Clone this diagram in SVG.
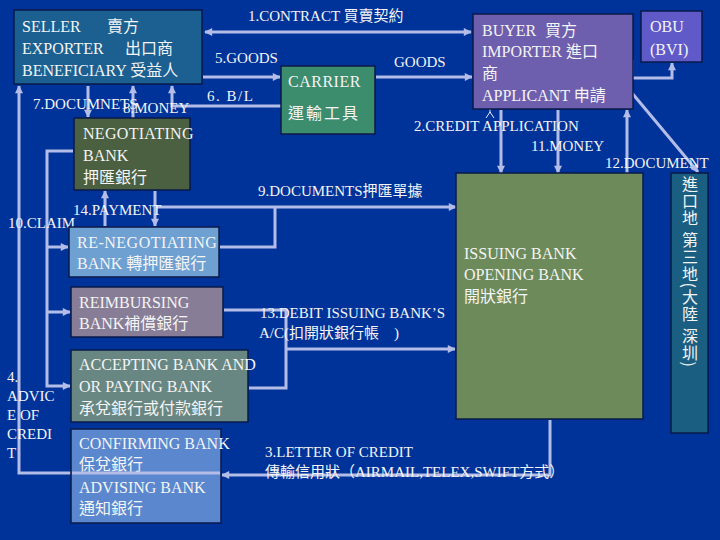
<svg xmlns="http://www.w3.org/2000/svg" width="720" height="540" viewBox="0 0 720 540">
<defs>
<style>
.bg{fill:#003399}
.box{stroke:#0a1a48;stroke-width:1.5}
.t{font-family:"Liberation Serif","Noto Sans CJK TC",serif;font-size:16px;fill:#f4f4f4}
.l{font-family:"Liberation Serif","Noto Sans CJK TC",serif;font-size:15px;fill:#f4f4f4}
.c{fill:none;stroke:#b4bde8;stroke-width:3}
.thin{fill:none;stroke:#e8ecff;stroke-width:1}
.v{font-family:"Noto Sans CJK TC",sans-serif;font-size:16px;fill:#f4f4f4;writing-mode:vertical-rl}
</style>
<marker id="ah" viewBox="0 0 10 10" refX="9" refY="5" markerWidth="9" markerHeight="8" orient="auto-start-reverse" markerUnits="userSpaceOnUse">
<path d="M0,0 L10,5 L0,10 z" fill="#b4bde8"/>
</marker>
</defs>
<rect class="bg" x="0" y="0" width="720" height="540"/>

<g id="connectors">
<path class="c" d="M205,32 H471" marker-start="url(#ah)" marker-end="url(#ah)"/>
<path class="c" d="M203,77 H280" marker-end="url(#ah)"/>
<path class="c" d="M376,77 H472" marker-end="url(#ah)"/>
<path class="c" d="M281,106 H172 V86" marker-end="url(#ah)"/>
<path class="c" d="M88,86 V117" marker-end="url(#ah)"/>
<path class="c" d="M133,118 V86" marker-end="url(#ah)"/>
<path class="c" d="M220,473 H19 V86" marker-end="url(#ah)"/>
<path class="c" d="M550,420 V475 H222" marker-end="url(#ah)"/>
<path class="c" d="M73,151 H47 V386 H70" marker-end="url(#ah)"/>
<path class="c" d="M47,247 H68" marker-end="url(#ah)"/>
<path class="c" d="M47,312 H70" marker-end="url(#ah)"/>
<path class="c" d="M105,226 V191" marker-end="url(#ah)"/>
<path class="c" d="M155,191 V226" marker-end="url(#ah)"/>
<path class="c" d="M155,207 H456" marker-end="url(#ah)"/>
<path class="c" d="M220,247 H275 V207"/>
<path class="c" d="M224,310 H286 V388 H249"/>
<path class="c" d="M286,349 H455" marker-end="url(#ah)"/>
<path class="c" d="M501,110 V173" marker-end="url(#ah)"/>
<path class="c" d="M558,110 V173" marker-end="url(#ah)"/>
<path class="c" d="M627,173 V110" marker-end="url(#ah)"/>
<path class="c" d="M632,60 V78 H672 V63" marker-end="url(#ah)"/>
<path class="c" d="M632,93 L698,172" marker-end="url(#ah)"/>
<path class="thin" d="M490,109 V113 M486,118 L490,112 L494,118"/>
</g>

<g id="labels">
<text class="l" x="248" y="21">1.CONTRACT 買賣契約</text>
<text class="l" x="215" y="63">5.GOODS</text>
<text class="l" x="394" y="67">GOODS</text>
<text class="l" x="207" y="101" letter-spacing="1.5">6. B/L</text>
<text class="l" x="33" y="109">7.DOCUMNETS</text>
<text class="l" x="123" y="113">8.MONEY</text>
<text class="l" x="414" y="131">2.CREDIT APPLICATION</text>
<text class="l" x="531" y="151">11.MONEY</text>
<text class="l" x="605" y="168">12.DOCUMENT</text>
<text class="l" x="258" y="196">9.DOCUMENTS押匯單據</text>
<text class="l" x="73" y="215">14.PAYMENT</text>
<text class="l" x="8" y="228">10.CLAIM</text>
<text class="l" x="260" y="318">13.DEBIT ISSUING BANK’S</text>
<text class="l" x="259" y="338">A/C(扣開狀銀行帳　)</text>
<text class="l" x="7" y="382">4.</text>
<text class="l" x="7" y="401">ADVIC</text>
<text class="l" x="7" y="420">E OF</text>
<text class="l" x="7" y="439">CREDI</text>
<text class="l" x="7" y="458">T</text>
<text class="l" x="265" y="457">3.LETTER OF CREDIT</text>
<text class="l" x="265" y="477">傳輸信用狀（AIRMAIL,TELEX,SWIFT方式）</text>
</g>

<g id="seller">
<rect class="box" x="14" y="10" width="188" height="74" fill="#1b6090"/>
<text class="t" x="22" y="32">SELLER<tspan x="107">賣方</tspan></text>
<text class="t" x="22" y="54">EXPORTER<tspan x="125">出口商</tspan></text>
<text class="t" x="22" y="76">BENEFICIARY 受益人</text>
</g>

<g id="carrier">
<rect class="box" x="281" y="66" width="94" height="68" fill="#3c8c6e"/>
<text class="t" x="288" y="87" letter-spacing="0.5">CARRIER</text>
<text class="t" x="288" y="119" letter-spacing="2">運輸工具</text>
</g>

<g id="buyer">
<rect class="box" x="473" y="14" width="160" height="95" fill="#6e5fae"/>
<text class="t" x="482" y="36">BUYER<tspan x="545">買方</tspan></text>
<text class="t" x="482" y="57">IMPORTER 進口</text>
<text class="t" x="482" y="79">商</text>
<text class="t" x="482" y="101">APPLICANT 申請</text>
</g>

<g id="obu">
<rect class="box" x="641" y="11" width="61" height="51" fill="#5f5ac8"/>
<text class="t" x="650" y="32">OBU</text>
<text class="t" x="650" y="55">(BVI)</text>
</g>

<g id="negotiating">
<rect class="box" x="74" y="118" width="116" height="72" fill="#4b5f41"/>
<text class="t" x="83" y="139" letter-spacing="0.3">NEGOTIATING</text>
<text class="t" x="83" y="161">BANK</text>
<text class="t" x="83" y="183">押匯銀行</text>
</g>

<g id="renegotiating">
<rect class="box" x="69" y="227" width="150" height="50" fill="#6ea0d2"/>
<text class="t" x="77" y="248" letter-spacing="0.5">RE-NEGOTIATING</text>
<text class="t" x="77" y="269">BANK 轉押匯銀行</text>
</g>

<g id="reimbursing">
<rect class="box" x="71" y="287" width="152" height="50" fill="#877d96"/>
<text class="t" x="79" y="308">REIMBURSING</text>
<text class="t" x="79" y="329">BANK補償銀行</text>
</g>

<g id="accepting">
<rect class="box" x="71" y="350" width="177" height="72" fill="#698782"/>
<text class="t" x="79" y="370">ACCEPTING BANK AND</text>
<text class="t" x="79" y="392">OR PAYING BANK</text>
<text class="t" x="79" y="414">承兌銀行或付款銀行</text>
</g>

<g id="confirming">
<rect class="box" x="71" y="429" width="150" height="94" fill="#5a87cd"/>
<text class="t" x="79" y="449">CONFIRMING BANK</text>
<text class="t" x="79" y="470">保兌銀行</text>
<text class="t" x="79" y="493">ADVISING BANK</text>
<text class="t" x="79" y="514">通知銀行</text>
</g>
<path class="c" d="M220,473 H72" stroke-width="2.5"/>

<g id="issuing">
<rect class="box" x="456" y="173" width="187" height="246" fill="#6c8a5a"/>
<text class="t" x="464" y="259">ISSUING BANK</text>
<text class="t" x="464" y="280">OPENING BANK</text>
<text class="t" x="464" y="302">開狀銀行</text>
</g>

<g id="region">
<rect class="box" x="671" y="173" width="37" height="260" fill="#1a5f82"/>
<text class="v" x="690" y="176" letter-spacing="1">進口地 第三地(大陸 深圳)</text>
</g>
</svg>
